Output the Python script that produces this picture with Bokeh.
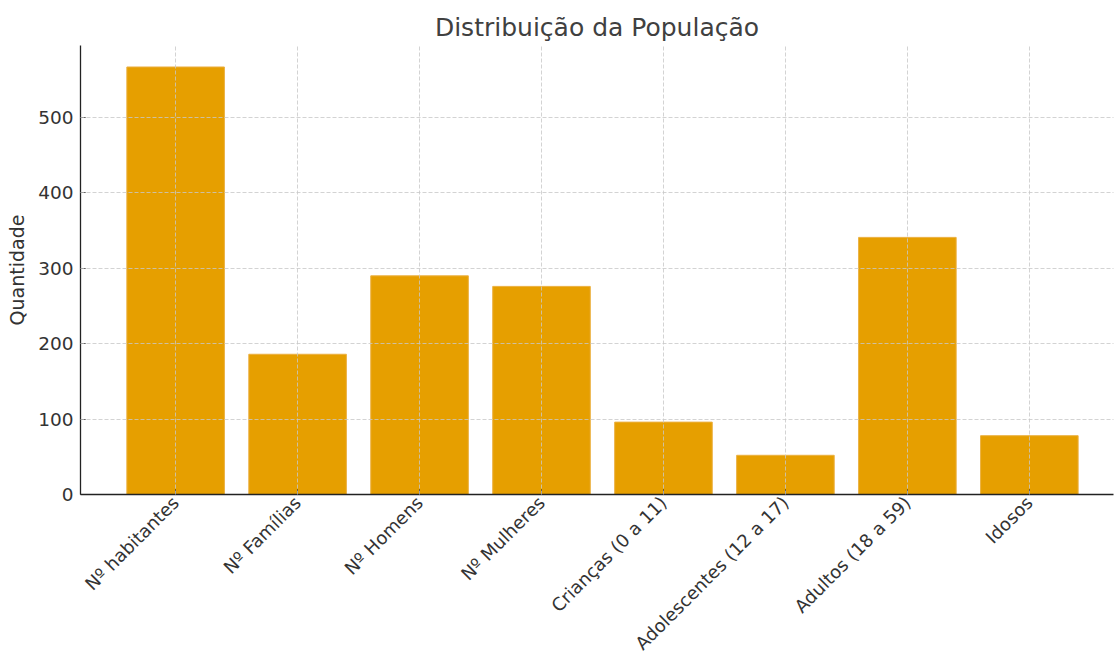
import math
from bokeh.plotting import figure
from bokeh.models import Range1d, FixedTicker
from bokeh.embed import file_html
from bokeh.resources import INLINE

categories = ["Nº habitantes", "Nº Famílias", "Nº Homens", "Nº Mulheres",
              "Crianças (0 a 11)", "Adolescentes (12 a 17)", "Adultos (18 a 59)", "Idosos"]
values = [567, 186, 290, 276, 96, 52, 341, 78]
y_ticks = [0, 100, 200, 300, 400, 500]

FONT = "DejaVu Sans"
TXT = "#333333"

idx = list(range(len(categories)))

p = figure(width=1114, height=664, output_backend="svg", toolbar_location=None,
           x_range=Range1d(-0.78, 7.69), y_range=Range1d(0, 595.5),
           title="Distribuição da População",
           min_border_left=80, min_border_right=1, min_border_top=45, min_border_bottom=170)

p.vbar(x=idx, top=values, width=0.8, fill_color="#E69F00", line_color="#EBB040", line_width=1)

p.title.align = "center"
p.title.text_font = FONT
p.title.text_font_size = "25px"
p.title.text_font_style = "normal"
p.title.text_color = "#404040"
p.title.offset = 6
p.title.standoff = 7

p.outline_line_color = None
p.background_fill_color = "white"
p.border_fill_color = "white"

p.xaxis.ticker = FixedTicker(ticks=idx)
p.xaxis.major_label_overrides = {i: c for i, c in enumerate(categories)}
p.xaxis.major_label_orientation = math.pi / 4
p.yaxis.ticker = FixedTicker(ticks=y_ticks)
p.yaxis.axis_label = "Quantidade"

for ax in (p.xaxis[0], p.yaxis[0]):
    ax.axis_line_color = "#222222"
    ax.axis_line_width = 1.3
    ax.major_tick_in = 5
    ax.major_tick_out = 0
    ax.major_tick_line_color = "#222222"
    ax.minor_tick_line_color = None
    ax.major_label_text_font = FONT
    ax.major_label_text_color = TXT
    ax.axis_label_text_font = FONT
    ax.axis_label_text_font_size = "19px"
    ax.axis_label_text_font_style = "normal"
    ax.axis_label_text_color = TXT

p.yaxis.major_label_text_font_size = "18.5px"
p.yaxis.major_label_standoff = 7
p.xaxis.major_label_text_font_size = "18px"
p.xaxis.major_label_standoff = 5
p.yaxis.axis_label_standoff = 7

for g in (p.xgrid[0], p.ygrid[0]):
    g.grid_line_color = "#c8c8c8"
    g.grid_line_dash = "4 2"
    g.grid_line_width = 1
    g.grid_line_alpha = 0.8
    g.level = "overlay"
p.xgrid.ticker = FixedTicker(ticks=idx)
p.ygrid.ticker = FixedTicker(ticks=y_ticks)

open("out.html", "w").write(file_html(p, INLINE))
